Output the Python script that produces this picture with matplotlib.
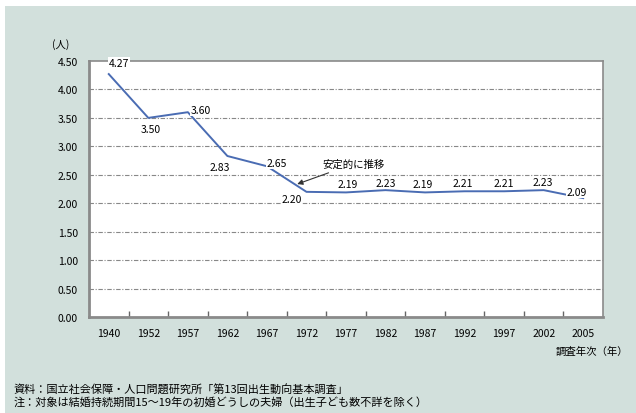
import matplotlib
matplotlib.use("Agg")
import matplotlib.pyplot as plt
from matplotlib.patches import Rectangle

plt.rcParams['font.family'] = ['Noto Sans CJK JP', 'DejaVu Sans']

years = ['1940', '1952', '1957', '1962', '1967', '1972', '1977',
         '1982', '1987', '1992', '1997', '2002', '2005']
children = [4.27, 3.50, 3.60, 2.83, 2.65, 2.20, 2.19,
            2.23, 2.19, 2.21, 2.21, 2.23, 2.09]
# label offsets in pixels (dx, dy) from each point
label_off = [(10, 11), (2, -11), (13, 2), (-8, -11), (10, 3), (-15, -7), (2, 8),
             (0, 7), (-2, 8), (-2, 8), (0, 8), (-1, 8), (-6, 6)]
y_ticks = [0.0, 0.5, 1.0, 1.5, 2.0, 2.5, 3.0, 3.5, 4.0, 4.5]

W, H = 636, 414
fig = plt.figure(figsize=(W / 100, H / 100), dpi=100)
fig.patch.set_facecolor('white')
bg = '#d2e0dc'
fig.patches.append(Rectangle((5 / W, 0), 1, (H - 7) / H, transform=fig.transFigure,
                             facecolor=bg, edgecolor='none', zorder=-1))

left, right, top, bottom = 89, 603, 62, 318
ax = fig.add_axes([left / W, (H - bottom) / H, (right - left) / W, (bottom - top) / H])
ax.set_facecolor('white')

x = list(range(len(years)))
ax.plot(x, children, color='#4a6cb3', lw=1.4, zorder=2)

ax.set_xlim(-0.5, len(years) - 0.5)
ax.set_ylim(0, 4.5)
ax.set_yticks(y_ticks)
ax.set_yticklabels([f'{v:.2f}' for v in y_ticks], fontsize=7.5)
ax.set_xticks(x)
ax.set_xticklabels(years, fontsize=7.5)
ax.tick_params(axis='both', length=0, pad=8)
ax.set_xticks([i + 0.5 for i in x[:-1]], minor=True)
ax.tick_params(axis='x', which='minor', direction='in', length=4, color='#666666', width=1)

for v in y_ticks[1:-1]:
    ax.axhline(v, color='#888888', lw=0.8, ls=(0, (4, 1.5, 1, 1.5)), zorder=1)

for s in ax.spines.values():
    s.set_color('#8a8a8a')
    s.set_linewidth(1.2)
ax.spines['left'].set_linewidth(2)
ax.spines['bottom'].set_linewidth(2)

px = 72 / 100
for xi, v, (dx, dy) in zip(x, children, label_off):
    ax.annotate(f'{v:.2f}', (xi, v), xytext=(dx * px, dy * px), textcoords='offset points',
                ha='center', va='center', fontsize=7.5, zorder=3,
                bbox=dict(facecolor='white', edgecolor='none', pad=0.5))

ax.annotate('安定的に推移', xy=(5 - 0.3, 2.32), xytext=(322 / W, (H - 165) / H),
            textcoords='figure fraction', ha='left', va='center', fontsize=7.5,
            arrowprops=dict(arrowstyle='-|>', color='#333333', lw=0.8, mutation_scale=8),
            zorder=4)

fig.text(52 / W, (H - 45) / H, '(人)', fontsize=7.5, ha='left', va='center')
fig.text(628 / W, (H - 352) / H, '調査年次（年）', fontsize=7.5, ha='right', va='center')
fig.text(14 / W, (H - 390) / H, '資料：国立社会保障・人口問題研究所「第13回出生動向基本調査」',
         fontsize=8, ha='left', va='center')
fig.text(14 / W, (H - 402) / H, '注：対象は結婚持続期間15～19年の初婚どうしの夫婦（出生子ども数不詳を除く）',
         fontsize=8, ha='left', va='center')

fig.savefig('out.png', dpi=100)
